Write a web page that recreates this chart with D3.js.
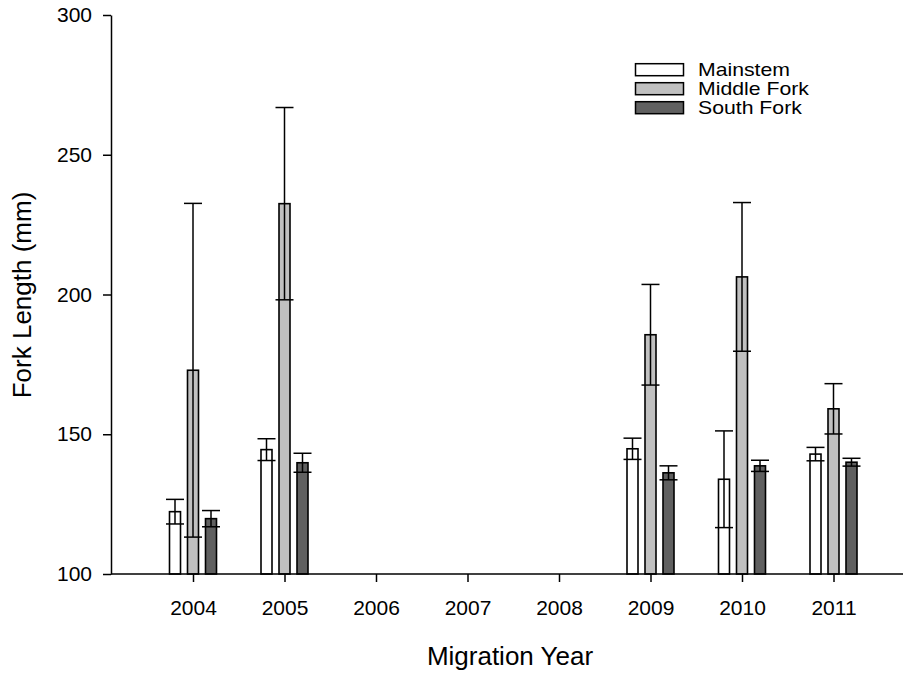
<!DOCTYPE html>
<html>
<head>
<meta charset="utf-8">
<script src="https://cdn.jsdelivr.net/npm/d3@7"></script>
<style>
  html, body { margin: 0; padding: 0; background: #fff; }
  svg { display: block; font-family: "Liberation Sans", Arial, sans-serif; }
</style>
</head>
<body>
<svg id="chart" width="904" height="673"></svg>
<script>
// Migration years on the x axis
const years = ["2004", "2005", "2006", "2007", "2008", "2009", "2010", "2011"];

// Mean fork length (mm) by river section, with standard errors
const mainstem   = [122.3, 144.5, null, null, null, 144.8, 133.9, 142.9];
const mainstemSE = [4.4, 3.9, null, null, null, 3.8, 17.3, 2.4];
const middleFork   = [172.9, 232.5, null, null, null, 185.6, 206.3, 159.1];
const middleForkSE = [59.7, 34.4, null, null, null, 18.0, 26.6, 9.0];
const southFork   = [119.8, 139.8, null, null, null, 136.2, 138.7, 140.0];
const southForkSE = [2.9, 3.4, null, null, null, 2.5, 2.0, 1.4];

const seriesNames = ["Mainstem", "Middle Fork", "South Fork"];
const yTicks = [100, 150, 200, 250, 300];

const series = [
  { name: seriesNames[0], values: mainstem,   se: mainstemSE,   fill: "#ffffff", offset: -18 },
  { name: seriesNames[1], values: middleFork, se: middleForkSE, fill: "#c0c0c0", offset: 0 },
  { name: seriesNames[2], values: southFork,  se: southForkSE,  fill: "#606060", offset: 18 }
];

const svg = d3.select("#chart");
const axisLeftX = 111, axisRightX = 903, axisBottomY = 574, axisTopY = 15;
const fontFamily = "'Liberation Sans', Arial, sans-serif";

const x = d3.scalePoint().domain(years).range([193, 833.5]);
const y = d3.scaleLinear().domain([100, 300]).range([axisBottomY, axisTopY]);

const barW = 11, capW = 18;

// Bars
series.forEach(s => {
  const g = svg.append("g");
  const rows = years.map((yr, i) => ({ yr, v: s.values[i], se: s.se[i] })).filter(d => d.v != null);
  g.selectAll("rect").data(rows).join("rect")
    .attr("x", d => x(d.yr) + s.offset - barW / 2)
    .attr("y", d => y(d.v))
    .attr("width", barW)
    .attr("height", d => y(100) - y(d.v))
    .attr("fill", s.fill)
    .attr("stroke", "#000")
    .attr("stroke-width", 1.6);

  // Error bars (mean ± SE) drawn over the bars
  const eb = g.selectAll("g.err").data(rows).join("g").attr("class", "err")
    .attr("stroke", "#000").attr("stroke-width", 1.5);
  eb.append("line")
    .attr("x1", d => x(d.yr) + s.offset).attr("x2", d => x(d.yr) + s.offset)
    .attr("y1", d => y(d.v - d.se)).attr("y2", d => y(d.v + d.se));
  eb.append("line")
    .attr("x1", d => x(d.yr) + s.offset - capW / 2).attr("x2", d => x(d.yr) + s.offset + capW / 2)
    .attr("y1", d => y(d.v + d.se)).attr("y2", d => y(d.v + d.se));
  eb.append("line")
    .attr("x1", d => x(d.yr) + s.offset - capW / 2).attr("x2", d => x(d.yr) + s.offset + capW / 2)
    .attr("y1", d => y(d.v - d.se)).attr("y2", d => y(d.v - d.se));
});

// Y axis
const yAxis = svg.append("g")
  .attr("transform", `translate(${axisLeftX},0)`)
  .call(d3.axisLeft(y).tickValues(yTicks).tickSize(8).tickSizeOuter(0).tickPadding(11));
yAxis.select(".domain").attr("stroke-width", 1.5);
yAxis.selectAll(".tick line").attr("stroke-width", 1.5);
yAxis.selectAll("text").attr("font-size", 21).attr("fill", "#000").attr("font-family", fontFamily);

// X axis
const xAxis = svg.append("g")
  .attr("transform", `translate(0,${axisBottomY})`)
  .call(d3.axisBottom(x).tickSize(8).tickSizeOuter(0).tickPadding(18));
xAxis.select(".domain").remove();
xAxis.append("line")
  .attr("x1", axisLeftX).attr("x2", axisRightX)
  .attr("y1", 0).attr("y2", 0)
  .attr("stroke", "#000").attr("stroke-width", 1.5);
xAxis.selectAll(".tick line").attr("stroke-width", 1.5);
xAxis.selectAll("text").attr("font-size", 21).attr("fill", "#000").attr("font-family", fontFamily);

// Axis titles
svg.append("text")
  .attr("x", 510).attr("y", 665)
  .attr("text-anchor", "middle")
  .attr("font-size", 26)
  .text("Migration Year");

svg.append("text")
  .attr("transform", "translate(31,295) rotate(-90)")
  .attr("text-anchor", "middle")
  .attr("font-size", 26)
  .text("Fork Length (mm)");

// Legend: swatches with wide, compact labels
const legend = svg.append("g");
series.forEach((s, i) => {
  const cy = 69.7 + i * 19;
  legend.append("rect")
    .attr("x", 635.5).attr("y", cy - 6)
    .attr("width", 48).attr("height", 12)
    .attr("fill", s.fill).attr("stroke", "#000").attr("stroke-width", 1.5);
  legend.append("text")
    .attr("transform", `translate(698,${cy}) scale(1.18,1)`)
    .attr("dy", "0.36em")
    .attr("font-size", 18)
    .text(s.name);
});
</script>
</body>
</html>
